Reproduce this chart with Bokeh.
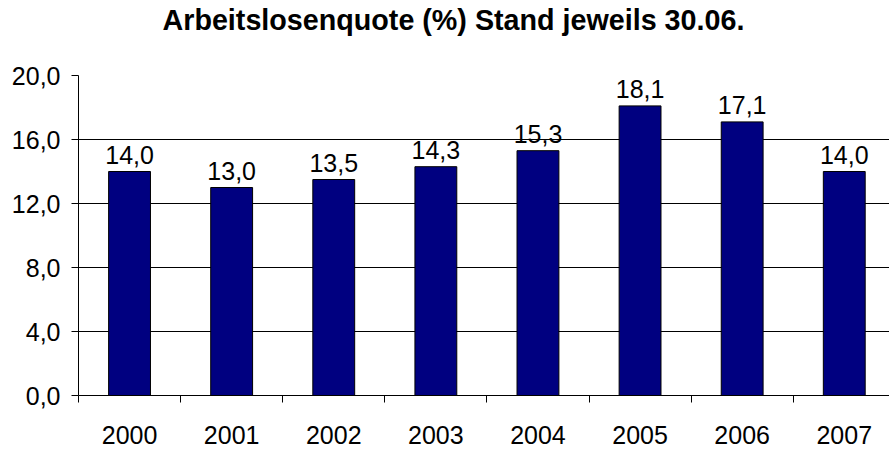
from bokeh.plotting import figure
from bokeh.models import Range1d, FixedTicker, ColumnDataSource, Title
from bokeh.core.properties import value
from bokeh.embed import file_html
from bokeh.resources import INLINE

years = ["2000", "2001", "2002", "2003", "2004", "2005", "2006", "2007"]
rates = [14.0, 13.0, 13.5, 14.3, 15.3, 18.1, 17.1, 14.0]
y_ticks = [0, 4, 8, 12, 16, 20]
title_text = "Arbeitslosenquote (%) Stand jeweils 30.06."

def de(v):
    return f"{v:.1f}".replace(".", ",")

centers = [i + 0.5 for i in range(len(years))]
bounds = [i for i in range(len(years) + 1)]
src = ColumnDataSource(dict(x=centers, top=rates, label=[de(v) for v in rates]))

FONT = "Liberation Sans"
p = figure(width=889, height=450, output_backend="svg", toolbar_location=None,
           x_range=Range1d(0, 7.943), y_range=Range1d(0, 20),
           min_border_left=78, min_border_right=0, min_border_top=75, min_border_bottom=55)
p.outline_line_color = None
p.background_fill_color = "white"
p.border_fill_color = "white"

# spacer between title and plot area
p.add_layout(Title(text=" ", text_font_size="34px", standoff=0), "above")

p.title.text = title_text
p.title.text_font = FONT
p.title.text_font_style = "bold"
p.title.text_font_size = "28.7px"
p.title.text_color = "black"
p.title.align = "left"
p.title.vertical_align = "bottom"
p.title.offset = 84
p.title.standoff = 0

p.vbar(x="x", top="top", width=0.41, source=src, fill_color="#000080", line_color="black", line_width=1)
p.text(x="x", y="top", text="label", source=src, text_align="center", text_baseline="bottom",
       y_offset=-8, text_font=value(FONT), text_font_size="25px", text_color="black")

p.xgrid.visible = False
p.ygrid.grid_line_color = "black"
p.ygrid.grid_line_width = 1
p.ygrid.ticker = FixedTicker(ticks=y_ticks)

ya = p.yaxis[0]
ya.ticker = FixedTicker(ticks=y_ticks)
ya.major_label_overrides = {t: de(t) for t in y_ticks}
ya.major_tick_out = 7
ya.major_tick_in = 0
ya.minor_tick_out = 0
ya.minor_tick_in = 0
ya.major_label_standoff = 11
ya.axis_line_color = "black"
ya.major_tick_line_color = "black"
ya.major_label_text_font = FONT
ya.major_label_text_font_size = "25px"
ya.major_label_text_color = "black"

xa = p.xaxis[0]
xa.ticker = FixedTicker(ticks=centers, minor_ticks=bounds)
xa.major_label_overrides = {c: y for c, y in zip(centers, years)}
xa.major_tick_out = 0
xa.major_tick_in = 0
xa.minor_tick_out = 7
xa.minor_tick_in = 0
xa.minor_tick_line_color = "black"
xa.major_label_standoff = 23
xa.axis_line_color = "black"
xa.major_label_text_font = FONT
xa.major_label_text_font_size = "25px"
xa.major_label_text_color = "black"

open("out.html", "w").write(file_html(p, INLINE))
